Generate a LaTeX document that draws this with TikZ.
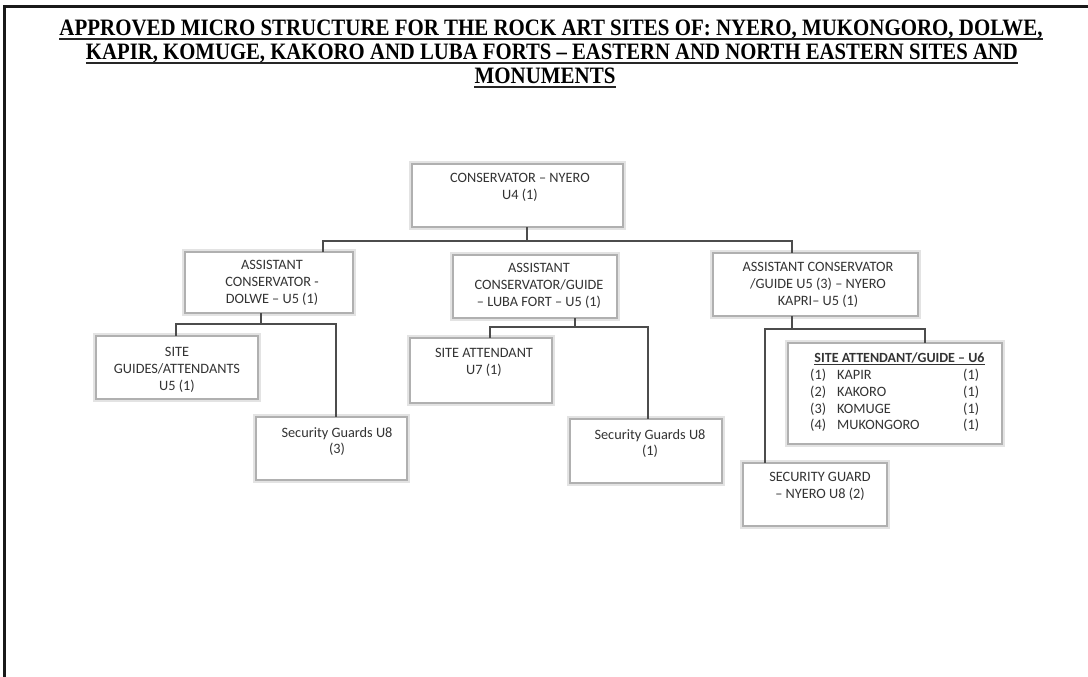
\documentclass[tikz,border=0pt]{standalone}
\usepackage{fontspec}
\setmainfont{Carlito}
\newfontfamily\titlefont[Ligatures=TeX]{Liberation Serif}
\usepackage{graphicx}
\begin{document}
\begin{tikzpicture}[x=1pt,y=-1pt,
  box/.style={draw=gray!62, line width=1.6pt, fill=white,
    preaction={draw=gray!22, line width=6pt},
    inner sep=0pt, outer sep=0pt, anchor=north west},
  txt/.style={font=\fontsize{14.3}{16.8}\selectfont, align=center, inner sep=0pt, anchor=north, text=black!80},
  ttl/.style={anchor=base, inner sep=0pt, font=\titlefont\bfseries\fontsize{23.5}{26}\selectfont},
  uline/.style={line width=1.6pt, black!85},
  conn/.style={draw=black!70, line width=1.1pt},
  frame/.style={line width=3pt, black!90}]
\useasboundingbox (0,0) rectangle (1088,677);
\fill[white] (0,0) rectangle (1088,677);
% frame
\coordinate (fa) at (4.5,677);
\coordinate (fb) at (4.5,6.5);
\coordinate (fc) at (1088,6.5);
\draw[frame] (fa) -- (fb) -- (fc);
% title
\node[ttl] (t1) at (551,36) {\resizebox{983pt}{\height}{APPROVED MICRO STRUCTURE FOR THE ROCK ART SITES OF: NYERO, MUKONGORO, DOLWE,}};
\node[ttl] (t2) at (552,60) {\resizebox{932pt}{\height}{KAPIR, KOMUGE, KAKORO AND LUBA FORTS – EASTERN AND NORTH EASTERN SITES AND}};
\node[ttl] (t3) at (545,84) {\resizebox{141pt}{\height}{MONUMENTS}};
\foreach \t in {t1,t2,t3}{
  \draw[uline] ([yshift=-3pt]\t.base west) -- ([yshift=-3pt]\t.base east);
}
% boxes
\node[box, minimum width=211pt, minimum height=63pt] (c0) at (412,164) {};
\node[box, minimum width=168pt, minimum height=61pt] (a1) at (185,252) {};
\node[box, minimum width=164pt, minimum height=63pt] (a2) at (453,255) {};
\node[box, minimum width=205pt, minimum height=63pt] (a3) at (713,253) {};
\node[box, minimum width=162pt, minimum height=63pt] (s1) at (96,336) {};
\node[box, minimum width=151pt, minimum height=63pt] (g1) at (256,417) {};
\node[box, minimum width=142pt, minimum height=65pt] (s2) at (410,338) {};
\node[box, minimum width=152pt, minimum height=64pt] (g2) at (570,419) {};
\node[box, minimum width=214pt, minimum height=101pt] (s3) at (788,343) {};
\node[box, minimum width=144pt, minimum height=63pt] (g3) at (743,463) {};
% texts
\node[txt] (c0t) at (520,173) {CONSERVATOR – NYERO\\U4 (1)};
\node[txt] (a1t) at (272,260) {ASSISTANT\\CONSERVATOR -\\DOLWE – U5 (1)};
\node[txt] (a2t) at (539,263) {ASSISTANT\\CONSERVATOR/GUIDE\\– LUBA FORT – U5 (1)};
\node[txt] (a3t) at (818,262) {ASSISTANT CONSERVATOR\\/GUIDE U5 (3) – NYERO\\KAPRI– U5 (1)};
\node[txt] (s1t) at (177,347) {SITE\\GUIDES/ATTENDANTS\\U5 (1)};
\node[txt] (s2t) at (484,348) {SITE ATTENDANT\\U7 (1)};
\node[txt] (g1t) at (337,427) {Security Guards U8\\(3)};
\node[txt] (g2t) at (650,429) {Security Guards U8\\(1)};
\node[txt] (g3t) at (820,472) {SECURITY GUARD\\– NYERO U8 (2)};
\node[txt, font=\bfseries\fontsize{14}{16.5}\selectfont] (s3h) at (899.5,352) {\underline{SITE ATTENDANT/GUIDE – U6}};
\node[txt, anchor=north west, align=left, font=\fontsize{14.3}{16.7}\selectfont] (s3t) at (810,368) {%
\begin{tabular}{@{}p{27pt}@{}p{126pt}@{}l@{}}
(1) & KAPIR & (1)\\
(2) & KAKORO & (1)\\
(3) & KOMUGE & (1)\\
(4) & MUKONGORO & (1)
\end{tabular}};
% junction coordinates
\coordinate (j0) at (527,241);
\coordinate (h0l) at (323,241);
\coordinate (h0r) at (792,241);
\coordinate (j1) at (261,324);
\coordinate (h1l) at (176,324);
\coordinate (h1r) at (336,324);
\coordinate (j2) at (575,327);
\coordinate (h2l) at (490,327);
\coordinate (h2r) at (648,327);
\coordinate (j3) at (792,329);
\coordinate (h3l) at (765,329);
\coordinate (h3r) at (925,329);
% connectors
\draw[conn] (c0.south -| j0) -- (j0);
\draw[conn] (a1.north -| h0l) -- (h0l) -- (h0r) -- (a3.north -| h0r);
\draw[conn] (a1.south -| j1) -- (j1);
\draw[conn] (s1.north -| h1l) -- (h1l) -- (h1r) -- (g1.north -| h1r);
\draw[conn] (a2.south -| j2) -- (j2);
\draw[conn] (s2.north -| h2l) -- (h2l) -- (h2r) -- (g2.north -| h2r);
\draw[conn] (a3.south -| j3) -- (j3);
\draw[conn] (g3.north -| h3l) -- (h3l) -- (h3r) -- (s3.north -| h3r);
\end{tikzpicture}
\end{document}
